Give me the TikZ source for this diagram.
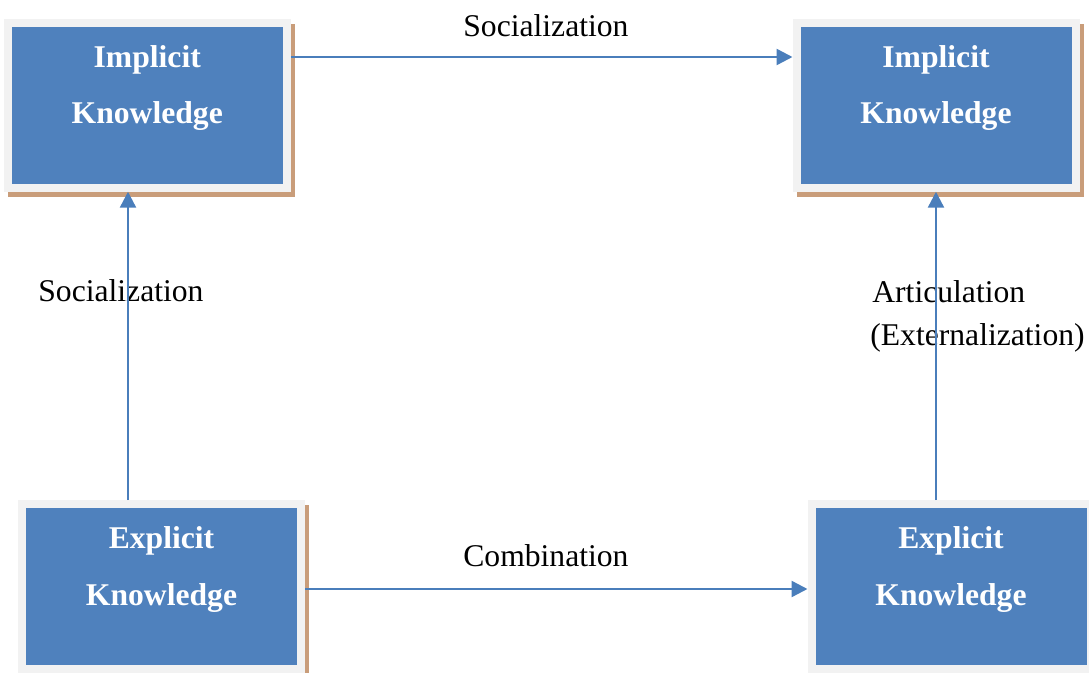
\documentclass[tikz,border=0pt]{standalone}
\usepackage{fontspec}
\setmainfont{Liberation Serif}
\usepackage{tikz}
\usetikzlibrary{arrows.meta,positioning,shadows}
\definecolor{kblue}{RGB}{79,129,189}
\definecolor{kframe}{RGB}{242,242,242}
\definecolor{ktan}{RGB}{201,157,122}
\definecolor{karrowblue}{RGB}{74,126,187}

\begin{document}
\begin{tikzpicture}[
    kbox/.style={fill=kblue, draw=kframe, line width=0.16cm, inner sep=0pt,
      minimum width=5.58cm, minimum height=3.3cm,
      general shadow={fill=ktan, draw=ktan, line width=0.16cm, shadow xshift=0.08cm, shadow yshift=-0.1cm}},
    ktext/.style={text=white, font=\bfseries\fontsize{18}{32}\selectfont, align=center, inner sep=0pt, anchor=north},
    klabel/.style={font=\fontsize{18}{22}\selectfont, inner sep=0pt, anchor=base west},
    karrow/.style={karrowblue, line width=1.4pt, -{Triangle[length=0.32cm,width=0.32cm]}}
  ]
  \useasboundingbox (0,0) rectangle (21.78,13.44);
  % Knowledge boxes
  \node[kbox] (imp1) at (2.945,11.335) {};
  \node[kbox] (imp2) at (18.72,11.335) {};
  \node[kbox] (exp1) at (3.23,1.71) {};
  \node[kbox] (exp2) at (19.02,1.71) {};
  \node[ktext] (imp1t) at ([yshift=1.2cm]imp1.center) {Implicit\\Knowledge};
  \node[ktext] (imp2t) at ([yshift=1.2cm]imp2.center) {Implicit\\Knowledge};
  \node[ktext] (exp1t) at ([yshift=1.2cm]exp1.center) {Explicit\\Knowledge};
  \node[ktext] (exp2t) at ([yshift=1.2cm]exp2.center) {Explicit\\Knowledge};
  % Labels
  \node[klabel] (soc1) at (9.26,12.706) {Socialization};
  \node[klabel] (soc2) at (0.76,7.42) {Socialization};
  \node[klabel] (art) at (17.44,7.38) {Articulation};
  \node[klabel] (ext) at (17.40,6.54) {(Externalization)};
  \node[klabel] (comb) at (9.26,2.106) {Combination};
  % Conversions
  \draw[karrow] ([yshift=0.965cm]imp1.east) -- ([yshift=0.965cm]imp1.east -| imp2.west);
  \draw[karrow] ([xshift=-0.67cm]exp1.north) -- ([xshift=-0.67cm]exp1.north |- imp1.south);
  \draw[karrow] (imp2.south |- exp2.north) -- (imp2.south);
  \draw[karrow] ([yshift=-0.05cm]exp1.east) -- ([yshift=-0.05cm]exp1.east -| exp2.west);
\end{tikzpicture}
\end{document}
